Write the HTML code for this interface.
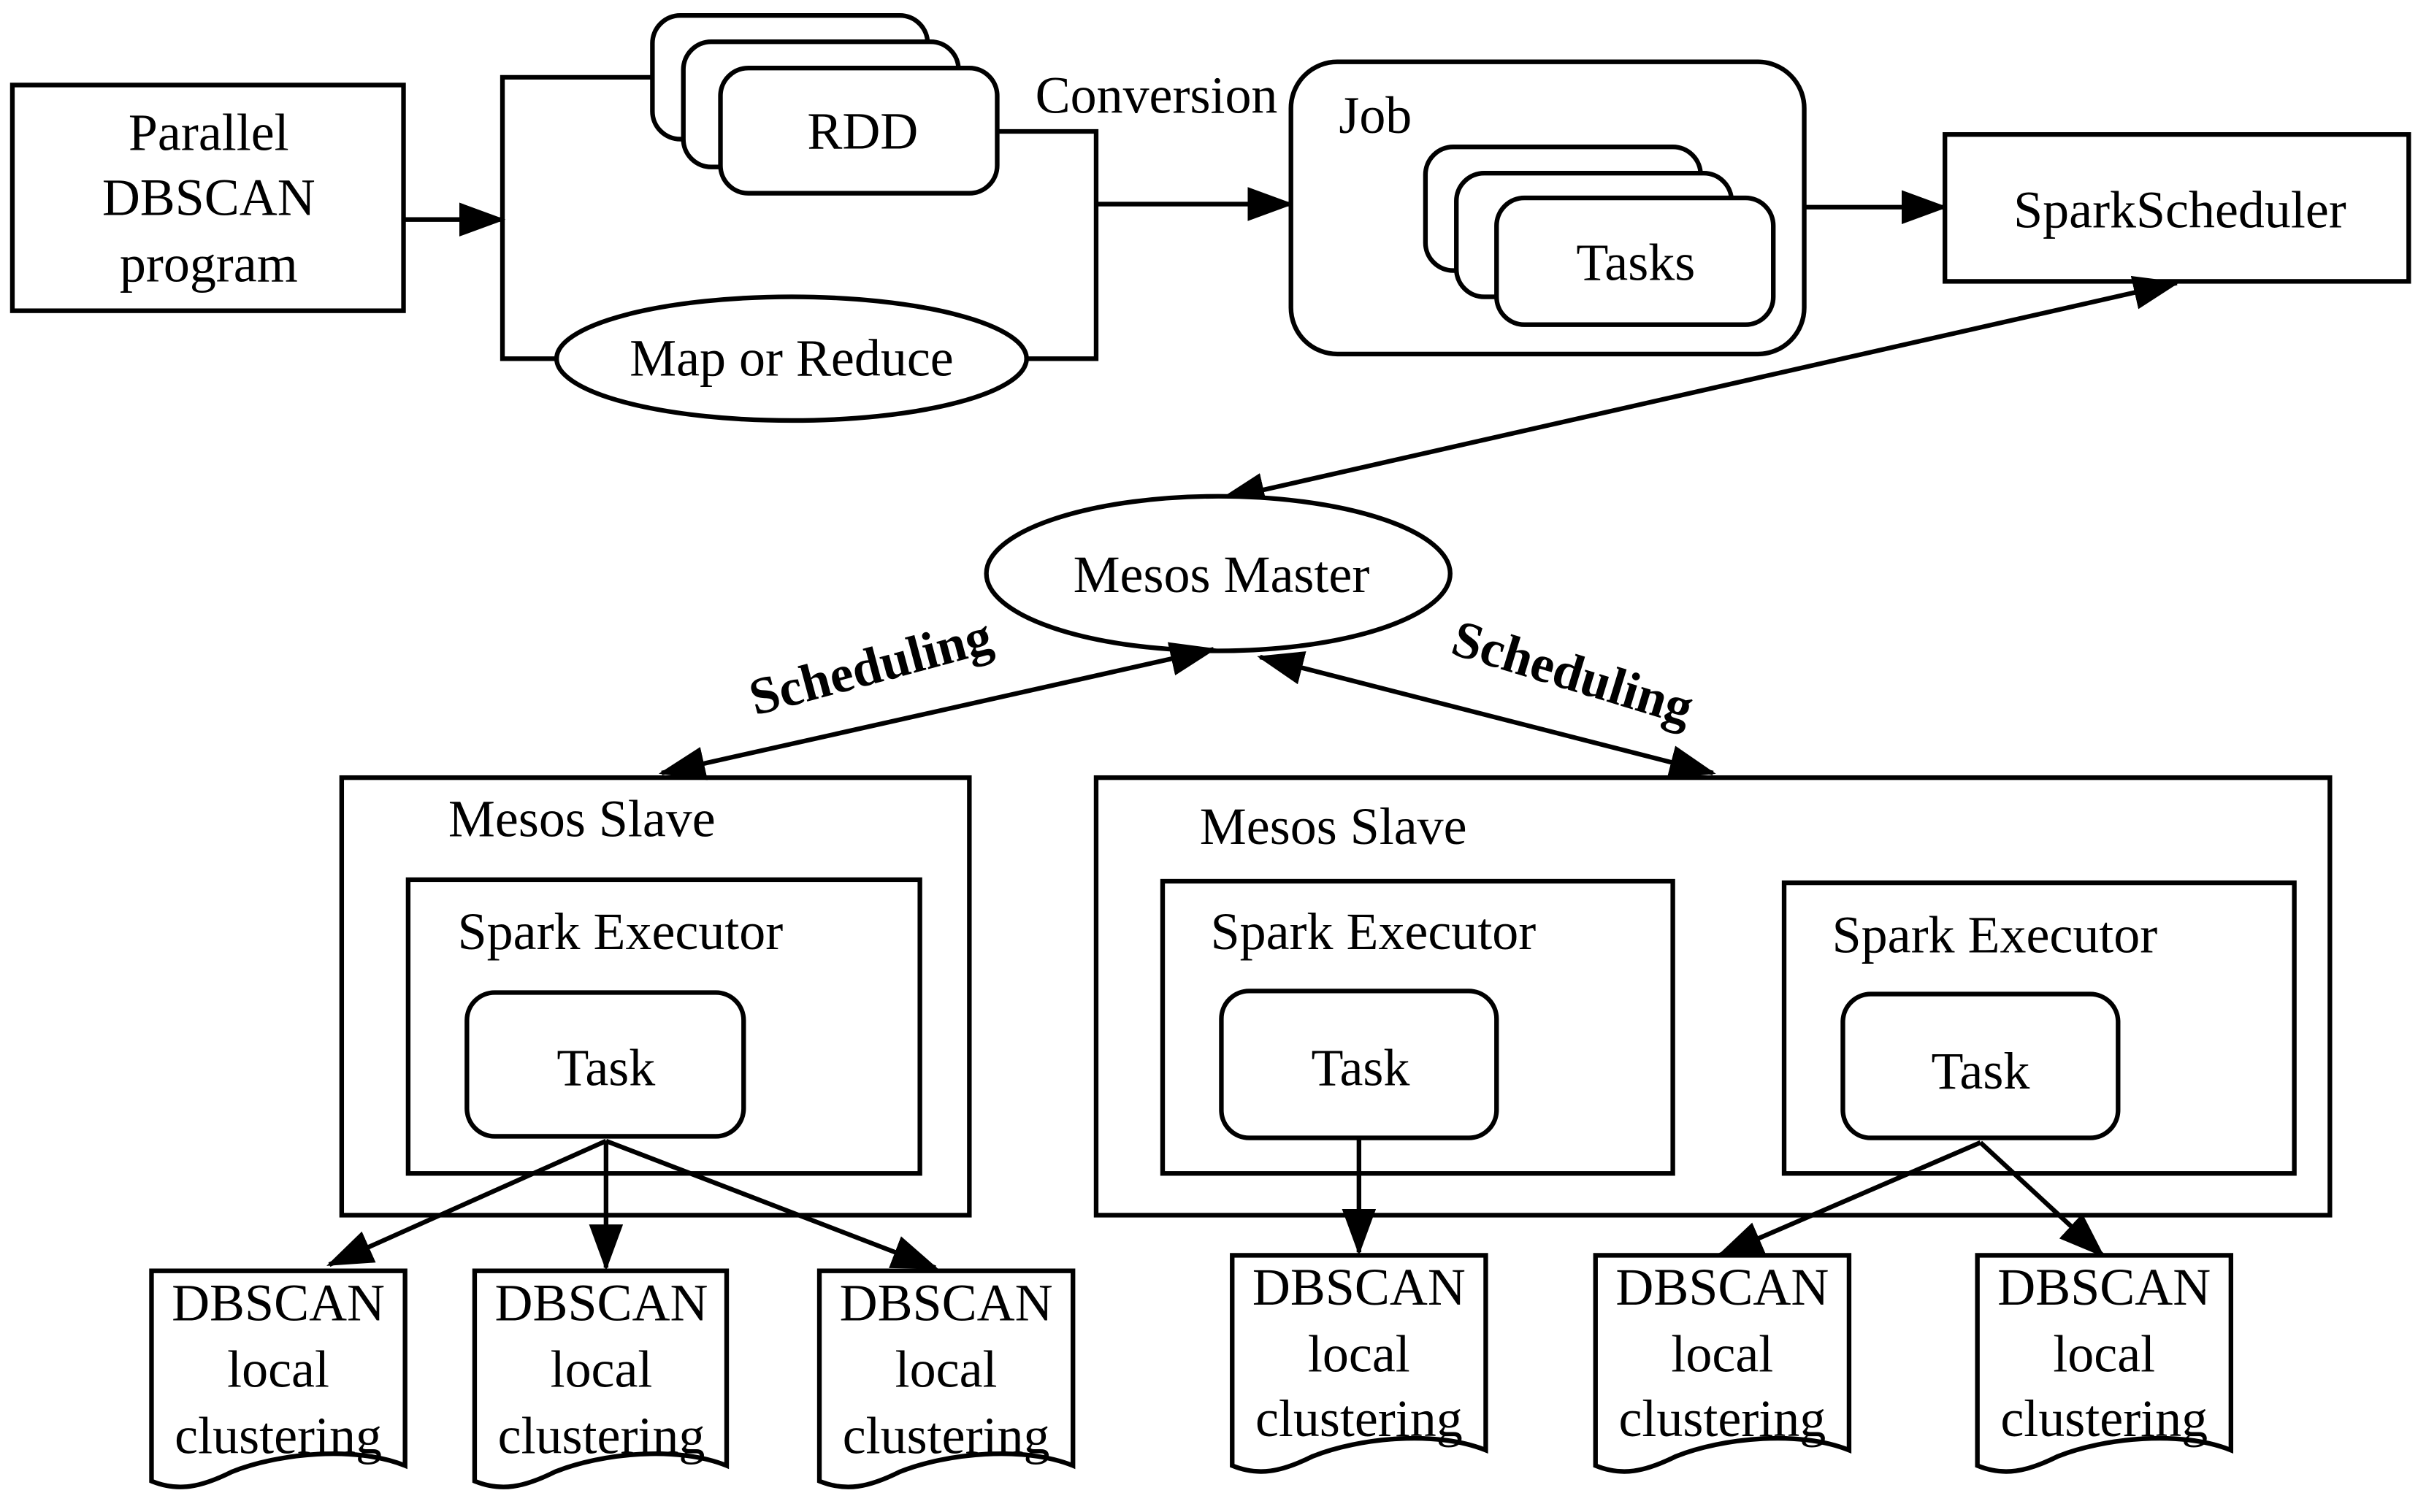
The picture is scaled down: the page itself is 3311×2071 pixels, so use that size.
<!DOCTYPE html>
<html><head><meta charset="utf-8"><style>
html,body{margin:0;padding:0;background:#fff;}
svg{display:block;}
text{font-family:"Liberation Serif",serif;font-size:34px;fill:#000;}
</style></head><body>
<svg width="3311" height="2071" viewBox="0 0 1564 978" preserveAspectRatio="none" xmlns="http://www.w3.org/2000/svg">
<defs>
<marker id="a" markerUnits="userSpaceOnUse" markerWidth="30" markerHeight="22" refX="28" refY="11" orient="auto-start-reverse">
<path d="M0,0 L30,11 L0,22 Z" fill="#000"/></marker>
</defs>
<g fill="none" stroke="#000" stroke-width="3">
<rect x="8" y="55" width="253" height="146" fill="#fff"/>
<line x1="261" y1="142" x2="325" y2="142" marker-end="url(#a)"/>
<polyline points="425,50 325,50 325,232 362,232"/>
<polyline points="662,232 709,232 709,85 645,85"/>
<line x1="709" y1="132" x2="835" y2="132" marker-end="url(#a)"/>
<ellipse cx="512" cy="232" rx="152" ry="40" fill="#fff"/>
<rect x="422" y="10" width="178" height="80" rx="18" fill="#fff"/>
<rect x="442" y="27" width="178" height="81" rx="18" fill="#fff"/>
<rect x="466" y="44" width="179" height="81" rx="18" fill="#fff"/>
<rect x="835" y="40" width="332" height="189" rx="30" fill="#fff"/>
<rect x="922" y="95" width="178" height="80" rx="18" fill="#fff"/>
<rect x="942" y="112" width="178" height="80" rx="18" fill="#fff"/>
<rect x="968" y="128" width="179" height="82" rx="18" fill="#fff"/>
<line x1="1167" y1="134" x2="1258" y2="134" marker-end="url(#a)"/>
<rect x="1258" y="87" width="300" height="95" fill="#fff"/>
<line x1="1408" y1="183" x2="790" y2="323" marker-start="url(#a)" marker-end="url(#a)"/>
<ellipse cx="788" cy="371" rx="150" ry="50" fill="#fff"/>
<line x1="785" y1="420" x2="428" y2="500" marker-start="url(#a)" marker-end="url(#a)"/>
<line x1="815" y1="425" x2="1108" y2="500" marker-start="url(#a)" marker-end="url(#a)"/>
<rect x="221" y="503" width="406" height="283"/>
<rect x="264" y="569" width="331" height="190"/>
<rect x="302" y="642" width="179" height="93" rx="18"/>
<rect x="709" y="503" width="798" height="283"/>
<rect x="752" y="570" width="330" height="189"/>
<rect x="790" y="641" width="178" height="95" rx="18"/>
<rect x="1154" y="571" width="330" height="188"/>
<rect x="1192" y="643" width="178" height="93" rx="18"/>
<line x1="392" y1="738" x2="213" y2="818" marker-end="url(#a)"/>
<line x1="392" y1="738" x2="392" y2="820" marker-end="url(#a)"/>
<line x1="392" y1="738" x2="605" y2="820" marker-end="url(#a)"/>
<line x1="879" y1="736" x2="879" y2="810" marker-end="url(#a)"/>
<line x1="1281" y1="739" x2="1112" y2="812" marker-end="url(#a)"/>
<line x1="1281" y1="739" x2="1360" y2="812" marker-end="url(#a)"/>
<path d="M98,822 H262 V948 C230,935 180,940 150,952 C130,962 115,965 98,958 Z"/>
<path d="M307,822 H470 V948 C438,935 389,940 359,952 C339,962 324,965 307,958 Z"/>
<path d="M530,822 H694 V948 C662,935 612,940 582,952 C562,962 547,965 530,958 Z"/>
<path d="M797,812 H961 V938 C929,925 879,930 849,942 C829,952 814,955 797,948 Z"/>
<path d="M1032,812 H1196 V938 C1164,925 1114,930 1084,942 C1064,952 1049,955 1032,948 Z"/>
<path d="M1279,812 H1443 V938 C1411,925 1361,930 1331,942 C1311,952 1296,955 1279,948 Z"/>
</g>
<g text-anchor="middle">
<text x="135" y="97">Parallel</text><text x="135" y="139">DBSCAN</text><text x="135" y="182">program</text>
<text x="558" y="96">RDD</text>
<text x="512" y="243">Map or Reduce</text>
<text x="748" y="73">Conversion</text>
<text x="1058" y="181">Tasks</text>
<text x="1410" y="147">SparkScheduler</text>
<text x="790" y="383">Mesos Master</text>
<text x="392" y="702">Task</text><text x="880" y="702">Task</text><text x="1281" y="704">Task</text>
<text x="180" y="854">DBSCAN</text><text x="180" y="897">local</text><text x="180" y="940">clustering</text>
<text x="389" y="854">DBSCAN</text><text x="389" y="897">local</text><text x="389" y="940">clustering</text>
<text x="612" y="854">DBSCAN</text><text x="612" y="897">local</text><text x="612" y="940">clustering</text>
<text x="879" y="844">DBSCAN</text><text x="879" y="887">local</text><text x="879" y="929">clustering</text>
<text x="1114" y="844">DBSCAN</text><text x="1114" y="887">local</text><text x="1114" y="929">clustering</text>
<text x="1361" y="844">DBSCAN</text><text x="1361" y="887">local</text><text x="1361" y="929">clustering</text>
<text transform="translate(566,442) rotate(-15)" font-weight="600">Scheduling</text>
<text transform="translate(1014,446) rotate(17)" font-weight="600">Scheduling</text>
</g>
<text x="866" y="86">Job</text>
<text x="290" y="541">Mesos Slave</text>
<text x="776" y="546">Mesos Slave</text>
<text x="296" y="614">Spark Executor</text>
<text x="783" y="614">Spark Executor</text>
<text x="1185" y="616">Spark Executor</text>
</svg>
</body></html>
